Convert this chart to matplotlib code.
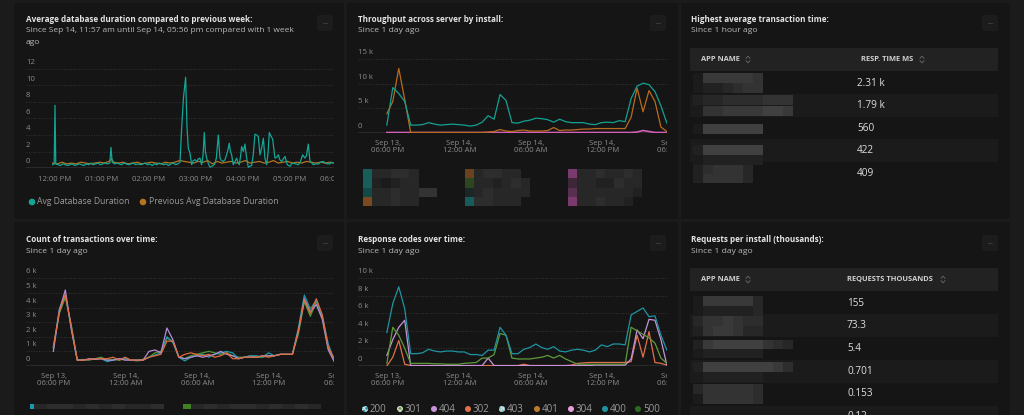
import matplotlib
matplotlib.use("Agg")
from matplotlib import pyplot as plt
from matplotlib.patches import Rectangle, FancyBboxPatch, Circle
from matplotlib.lines import Line2D
from matplotlib.transforms import Affine2D, Bbox, TransformedBbox, offset_copy
import numpy as np

plt.rcParams['font.family'] = ['Open Sans', 'DejaVu Sans']

W, H = 1024, 415

# ---- panel 1: avg database duration, (minutes after 12:00 PM, value)
db_avg = [(-3, 0.4), (-1, 0.5), (0, 7.6), (1, 0.5), (4, 0.4), (7, 0.3), (10, 0.5), (13, 0.4), (16, 0.3),
          (19, 0.4), (22, 0.5), (25, 0.3), (28, 0.4), (31, 0.5), (34, 0.4), (37, 0.3), (40, 0.5), (43, 0.4),
          (46, 0.6), (49, 0.4), (52, 0.5), (55, 0.6), (58, 0.4), (61, 0.5), (64, 0.6), (67, 0.5), (70, 0.6),
          (71.5, 2.5), (73, 0.7), (76, 0.5), (79, 0.6), (82, 0.5), (85, 0.4), (88, 0.6), (91, 0.5), (94, 0.4),
          (97, 0.5), (100, 0.6), (103, 0.4), (106, 0.5), (109, 0.4), (112, 0.5), (115, 0.6), (118, 0.4),
          (121, 0.5), (124, 0.3), (127, 0.5), (130, 0.4), (133, 0.6), (136, 0.5), (139, 0.4), (142, 0.5),
          (145, 0.3), (148, 0.5), (151, 0.6), (154, 0.4), (157, 0.5), (159.6, 0.7), (161.7, 4.8), (164, 8.5),
          (166.8, 11.0), (168.5, 5.0), (170.2, 2.4), (172.3, 1.8), (174.5, 0.4), (176.5, 0.9), (178.7, 1.0),
          (181, 0.8), (183, 1.1), (185, 1.2), (187.2, 0.4), (189, 1.5), (190.6, 4.3), (192, 2.0), (193.6, 1.2),
          (195.5, 0.6), (197.9, 0.1), (200, 0.2), (202, 0.3), (204, 0.5), (206, 1.2), (208.5, 4.0), (210.6, 1.2),
          (212.5, 0.9), (214.9, 0.8), (217, 1.0), (219.1, 1.6), (220.8, 2.2), (222.5, 3.0), (224, 2.0),
          (225.5, 1.6), (227.6, 0.4), (230, 0.8), (231.9, 1.2), (233.5, 0.7), (235.3, 0.4), (237, 1.5),
          (238.3, 2.6), (240.5, 2.0), (242.5, 2.9), (244.7, 1.2), (246.8, 0.1), (249, 0.2), (251, 0.3),
          (253, 1.5), (255.3, 4.1), (257.5, 4.0), (259.6, 3.8), (261.7, 1.6), (264, 2.5), (266, 3.6), (268, 1.2),
          (270.2, 0.4), (272, 1.8), (273.6, 4.3), (275.5, 3.9), (277.9, 3.5), (280.8, 1.2), (283, 1.3),
          (285.1, 1.6), (287, 1.0), (289.3, 0.8), (291.5, 1.1), (293.6, 1.4), (296.6, 0.4), (300, 0.2),
          (302, 0.5), (304.3, 0.6), (307, 0.5), (310.6, 0.4), (313, 0.7), (316.2, 1.6), (319.1, 1.2), (321, 1.5),
          (323.4, 2.9), (325.5, 0.8), (328, 0.6), (329.8, 0.4), (333, 0.5), (336.2, 0.5), (339, 0.7),
          (342.5, 0.8), (345, 0.6), (348, 0.5), (351, 0.5), (353, 0.7), (355.3, 0.6)]
db_prev = [(-3, 0.6), (3, 0.5), (9, 0.7), (15, 0.5), (21, 0.6), (27, 0.5), (33, 0.7), (39, 0.6), (45, 0.5),
           (51, 0.6), (57, 0.7), (63, 0.6), (69, 0.8), (72, 1.1), (75, 0.7), (81, 0.6), (87, 0.7), (93, 0.5),
           (99, 0.6), (105, 0.7), (111, 0.5), (117, 0.6), (123, 0.7), (129, 0.6), (135, 0.5), (141, 0.7),
           (147, 0.6), (153, 0.7), (159, 0.9), (165, 0.8), (171, 0.7), (177, 0.6), (183, 0.8), (189, 0.7),
           (195, 0.9), (201, 0.5), (207, 0.8), (213, 0.6), (219, 0.7), (225, 0.8), (231, 0.6), (237, 0.7),
           (243, 0.9), (249, 0.6), (255, 0.7), (261, 0.8), (267, 0.6), (273, 0.7), (279, 0.9), (285, 0.6),
           (291, 0.7), (297, 0.8), (303, 0.6), (309, 0.7), (315, 0.6), (321, 0.8), (327, 0.7), (333, 0.6),
           (339, 0.7), (345, 0.6), (351, 0.7), (355, 0.6)]
db_ticks = [0, 60, 120, 180, 240, 300, 360]
db_tick_labels = ["12:00 PM", "01:00 PM", "02:00 PM", "03:00 PM", "04:00 PM", "05:00 PM", "06:00 PM"]

# ---- day charts: half-hour samples, hours after Sep 13 06:00 PM
day_ticks = [0, 6, 12, 18, 24]
day_tick_labels = ["Sep 13,\n06:00 PM", "Sep 14,\n12:00 AM", "Sep 14,\n06:00 AM", "Sep 14,\n12:00 PM", "Sep 14,\n06:00 PM"]
hours_a = np.arange(48) * 0.5 - 0.1
hours_b = np.arange(48) * 0.5 - 0.05

# throughput (k)
thr_teal = [1.6, 9.2, 8.0, 6.4, 1.6, 1.6, 1.7, 2.1, 1.8, 1.6, 1.7, 1.8, 1.7, 1.6, 1.4, 1.6, 2.2, 3.5, 2.8, 7.8,
            6.6, 2.1, 2.0, 2.4, 2.6, 3.0, 2.9, 2.7, 2.2, 2.8, 2.3, 2.1, 2.1, 2.1, 1.8, 1.7, 2.1, 2.2, 2.1, 2.5,
            2.3, 7.0, 9.5, 10.1, 9.8, 8.4, 5.5, 2.0]
thr_orange = [3.9, 6.4, 13.1, 6.8, 0.1, 0.1, 0.1, 0.1, 0.1, 0.1, 0.1, 0.1, 0.1, 0.1, 0.1, 0.1, 0.1, 0.2, 0.3, 0.7,
              0.4, 0.3, 0.5, 0.6, 0.4, 0.4, 0.4, 0.5, 1.1, 0.5, 0.6, 0.6, 0.7, 0.8, 0.8, 0.9, 0.9, 0.9, 0.9, 0.9,
              0.9, 3.2, 9.1, 4.3, 8.6, 6.4, 1.2, 0.3]
thr_pink = [0.1, 0.1, 0.1, 0.1, 0.1, 0.1, 0.1, 0.1, 0.1, 0.1, 0.1, 0.1, 0.1, 0.1, 0.1, 0.1, 0.1, 0.1, 0.1, 0.1,
            0.1, 0.1, 0.1, 0.1, 0.1, 0.1, 0.1, 0.1, 0.1, 0.1, 0.1, 0.1, 0.1, 0.1, 0.1, 0.1, 0.1, 0.1, 0.1, 0.1,
            0.1, 0.1, 0.2, 0.5, 0.3, 0.1, 0.1, 0.1]

# transaction counts (k)
cnt_teal = [1.2, 3.9, 4.9, 2.6, 0.4, 0.4, 0.45, 0.5, 0.5, 0.3, 0.4, 0.5, 0.5, 0.4, 0.35, 0.4, 0.6, 0.75, 0.9, 2.0,
            1.6, 0.6, 0.35, 0.6, 0.7, 0.8, 0.6, 0.8, 0.9, 1.0, 0.9, 0.5, 0.6, 0.7, 0.7, 0.6, 0.9, 0.7, 0.8, 0.8,
            0.8, 2.6, 4.85, 3.9, 4.5, 3.4, 1.5, 0.4]
cnt_green = [1.3, 3.6, 4.7, 2.8, 0.4, 0.45, 0.4, 0.5, 0.6, 0.4, 0.45, 0.4, 0.5, 0.4, 0.4, 0.45, 0.6, 0.9, 1.0, 1.9,
             1.7, 0.6, 0.5, 0.7, 0.8, 0.9, 1.0, 0.9, 0.8, 0.9, 0.7, 0.6, 0.6, 0.7, 0.6, 0.6, 0.7, 0.7, 0.8, 0.8,
             0.8, 2.2, 4.4, 3.4, 4.4, 3.3, 1.2, 0.4]
cnt_purple = [1.0, 3.8, 5.2, 2.5, 0.4, 0.4, 0.5, 0.45, 0.5, 0.4, 0.4, 0.5, 0.4, 0.4, 0.4, 0.4, 1.0, 1.1, 0.9, 2.6,
              1.8, 0.6, 0.5, 0.6, 0.7, 0.6, 0.7, 0.8, 1.0, 0.8, 0.7, 0.5, 0.6, 0.6, 0.6, 0.7, 0.7, 0.7, 0.8, 0.8,
              0.8, 2.4, 4.6, 3.7, 4.2, 3.2, 1.1, 0.3]
cnt_orange = [1.3, 3.7, 4.9, 2.7, 0.4, 0.4, 0.45, 0.5, 0.5, 0.5, 0.6, 0.4, 0.6, 0.4, 0.4, 0.4, 0.6, 0.7, 0.8, 1.7,
              1.7, 0.6, 0.8, 0.9, 0.8, 0.7, 0.8, 0.6, 0.7, 0.9, 0.5, 0.5, 0.6, 0.6, 0.6, 0.7, 0.6, 0.7, 0.8, 0.8,
              0.8, 2.4, 4.5, 3.6, 4.6, 3.5, 1.3, 0.5]

# response codes (k)
rc_200 = [3.8, 7.1, 9.0, 6.5, 1.4, 1.4, 1.5, 1.9, 1.7, 1.6, 1.7, 1.7, 1.6, 1.6, 1.3, 1.3, 1.2, 1.8, 1.8, 4.4,
          3.5, 1.4, 1.4, 1.9, 2.1, 2.5, 2.1, 1.9, 2.2, 1.7, 1.6, 1.8, 1.9, 1.8, 1.6, 1.8, 2.4, 2.2, 2.5, 2.5,
          2.4, 5.8, 6.2, 6.6, 5.6, 5.7, 3.5, 1.8]
rc_301 = [0.3, 4.4, 3.5, 2.0, 0.3, 0.3, 0.3, 0.3, 0.25, 0.25, 0.2, 0.2, 0.2, 0.3, 0.35, 0.4, 0.9, 0.9, 1.3, 3.7,
          3.5, 0.9, 0.8, 0.8, 0.8, 0.9, 1.0, 1.2, 0.9, 1.2, 0.8, 0.5, 0.2, 0.2, 0.2, 0.2, 0.2, 0.2, 0.2, 0.2,
          0.2, 4.4, 4.0, 3.6, 3.2, 2.6, 0.9, 0.3]
rc_404 = [1.2, 3.0, 4.4, 5.2, 0.05, 0.05, 0.05, 0.05, 0.05, 0.05, 0.05, 0.05, 0.05, 0.05, 0.05, 0.05, 0.05, 0.9,
          0.05, 0.05, 0.05, 0.05, 0.05, 0.05, 0.05, 0.05, 0.05, 0.05, 0.05, 0.05, 0.05, 0.05, 0.05, 0.05, 0.05,
          0.1, 0.1, 0.1, 0.1, 0.1, 0.1, 0.8, 4.1, 3.1, 5.3, 5.2, 3.0, 0.1]
rc_302 = [0.0, 1.0, 2.9, 0.2, 0.05, 0.05, 0.05, 0.05, 0.05, 0.05, 0.05, 0.05, 0.05, 0.05, 0.05, 0.05, 0.05, 0.05,
          0.05, 0.05, 0.05, 0.05, 0.05, 0.2, 0.05, 0.05, 0.05, 0.05, 0.05, 0.05, 0.05, 0.1, 0.3, 0.35, 0.4, 0.4,
          0.4, 0.4, 0.4, 0.4, 0.4, 0.5, 3.5, 1.0, 3.9, 0.4, 0.3, 0.1]
rc_legend = ["200", "301", "404", "302", "403", "401", "304", "400", "500"]

# ---- tables
resp_values = ["2.31 k", "1.79 k", "560", "422", "409"]
req_values = ["155", "73.3", "5.4", "0.701", "0.153", "0.12"]

BG = '#1b1b1b'
PANEL = '#151515'
GRID = '#3e3e3e'
TICK = '#8a8a8a'
TITLE = '#e4e4e4'
SUB = '#b8b8b8'

fig = plt.figure(figsize=(W / 100, H / 100), dpi=100, facecolor=BG)
pix = Affine2D().scale(1 / W, -1 / H).translate(0, 1) + fig.transFigure


def ptext(x, y, s, size=6.1, color=SUB, weight='normal', ha='left'):
    fig.text(x / W, 1 - y / H, s, fontsize=size, color=color, fontweight=weight, ha=ha, va='center')


def rect(x, y, w, h, color, z=1):
    fig.add_artist(Rectangle((x, y), w, h, transform=pix, facecolor=color, edgecolor='none', lw=0, zorder=z))


def menu(x, y):
    fig.add_artist(FancyBboxPatch((x, y), 16, 16, boxstyle="round,pad=0,rounding_size=2", transform=pix,
                                  facecolor='#1c1c1c', edgecolor='none'))
    ptext(x + 8, y + 7.5, "...", size=5.5, color='#7a7a7a', ha='center')


def chevrons(x, y):
    fig.add_artist(Line2D([x - 2, x, x + 2], [y - 1.2, y - 3.4, y - 1.2], transform=pix, color='#6a6a6a', lw=0.6))
    fig.add_artist(Line2D([x - 2, x, x + 2], [y + 1.2, y + 3.4, y + 1.2], transform=pix, color='#6a6a6a', lw=0.6))


GRAYS = {'1': '#1b1b1b', '2': '#212121', '3': '#272727', '4': '#2d2d2d', '5': '#333333',
         '6': '#393939', '7': '#404040', '8': '#484848'}


def mosaic(x0, y0, cw, ch, rows):
    for i, row in enumerate(rows):
        for j, c in enumerate(row):
            if c in GRAYS:
                rect(x0 + j * cw, y0 + i * ch, cw, ch, GRAYS[c])


def chart(l, t, r, b, xlim, ymax, yticks, ylabels):
    ax = fig.add_axes([l / W, 1 - b / H, (r - l) / W, (b - t) / H])
    ax.set_zorder(5)
    ax.set_facecolor('none')
    ax.set_xlim(xlim)
    ax.set_ylim(0, ymax)
    for s in ax.spines.values():
        s.set_visible(False)
    ax.set_xticks([])
    ax.set_yticks([])
    for v, lab in zip(yticks, ylabels):
        if v > 0:
            ax.axhline(v, color=GRID, lw=0.6, ls=(0, (1, 2)), zorder=0)
        ax.annotate(lab, (0, v), xycoords=('axes fraction', 'data'), xytext=(0, 6.5),
                    textcoords='offset pixels', ha='left', va='center', fontsize=5.6, color=TICK,
                    annotation_clip=False)
    ax.axhline(0, color='#2c2c2c', lw=1.3, zorder=0)
    return ax


def xlabels(ax, xs, labels, dy):
    tr = offset_copy(ax.get_xaxis_transform(), fig=fig, y=-dy, units='dots')
    clip = TransformedBbox(Bbox([[-0.3, -3], [1.0, 1]]), ax.transAxes)
    for x, lab in zip(xs, labels):
        t = ax.text(x, 0, lab, transform=tr, ha='center', va='center', fontsize=5.6, color=TICK, linespacing=0.95)
        t.set_clip_box(clip)
        t.set_clip_on(True)


# ---- panels
for (x, y, w, h) in [(14, 3, 330, 216), (347, 3, 331, 216), (681, 3, 329, 216),
                     (14, 222, 330, 193), (347, 222, 331, 193), (681, 222, 329, 193)]:
    rect(x, y, w, h, PANEL, z=0)

# panel 1
ptext(26, 19, "Average database duration compared to previous week:", size=5.9, color=TITLE, weight='bold')
ptext(26, 31, "Since Sep 14, 11:57 am until Sep 14, 05:56 pm compared with 1 week", size=6.0)
ptext(26, 42, "ago", size=6.0)
menu(317, 15)
ax1 = chart(26, 69, 334, 168, (-37, 356.2), 12, [0, 2, 4, 6, 8, 10, 12], ["0", "2", "4", "6", "8", "10", "12"])
ax1.plot([p[0] for p in db_prev], [p[1] for p in db_prev], color='#b5741f', lw=0.9)
ax1.plot([p[0] for p in db_avg], [p[1] for p in db_avg], color='#13a596', lw=0.9)
xlabels(ax1, db_ticks, db_tick_labels, 11)
fig.add_artist(Circle((32, 202), 2.6, transform=pix, color='#13a596'))
ptext(37, 202, "Avg Database Duration", size=6.2, color='#9a9a9a')
fig.add_artist(Circle((143, 202), 2.6, transform=pix, color='#b5741f'))
ptext(149, 202, "Previous Avg Database Duration", size=6.2, color='#9a9a9a')

# panel 2
ptext(358, 20, "Throughput across server by install:", size=5.9, color=TITLE, weight='bold')
ptext(358, 31, "Since 1 day ago")
menu(650, 15)
ax2 = chart(358, 59, 667, 133, (-2.52, 23.41), 15, [0, 5, 10, 15], ["0", "5 k", "10 k", "15 k"])
ax2.plot(hours_a, thr_pink, color='#d35fb7', lw=1.2)
ax2.plot(hours_a, thr_orange, color='#b86b1c', lw=0.9)
ax2.plot(hours_a, thr_teal, color='#12a192', lw=0.9)
xlabels(ax2, day_ticks, day_tick_labels, 14)
leg_cols = [(363, ['#175e5a', '#175e5a', '#124a48', '#7a4a1e'], ["33443", "21233", "3343355", "33433"]),
            (465, ['#6a4220', '#2d4620', '#1c2626', '#165c58'], ["34433", "332343", "343333", "44333"]),
            (568, ['#7a3a6e', '#3c2638', '#5a3052', '#7a3a6e'], ["3343343", "3322433", "3333332", "3343320"])]
for sx, sw, rows in leg_cols:
    for i, c in enumerate(sw):
        rect(sx, 169 + i * 9.3, 9, 9.3, c)
    mosaic(sx + 9, 169, 9.3, 9.3, rows)

# panel 3
ptext(691, 19, "Highest average transaction time:", size=5.9, color=TITLE, weight='bold')
ptext(691, 31, "Since 1 hour ago")
menu(982, 15)
rect(690, 48, 308, 23, '#222222')
rect(690, 94, 308, 23, '#1b1b1b')
rect(690, 139, 308, 23, '#1b1b1b')
ptext(701, 59.5, "APP NAME", size=5.4, color='#cfcfcf', weight='bold')
chevrons(748, 59.5)
ptext(861, 59.5, "RESP. TIME MS", size=5.4, color='#cfcfcf', weight='bold')
chevrons(922, 59.5)
for i, v in enumerate(resp_values):
    ptext(857, 83 + i * 22.6, v, size=7.2, color='#dedede')
mosaic(693, 73, 10, 10, ["1666665", "1223455"])
mosaic(693, 95, 10, 10.5, ["2334444555", "1556666776"])
mosaic(693, 124, 10, 10, ["1777777"])
mosaic(693, 145, 10, 10, ["2777777", "1222222"])
mosaic(693, 165, 10, 9, ["2455530", "2555530"])

# panel 4
ptext(26, 239, "Count of transactions over time:", size=5.9, color=TITLE, weight='bold')
ptext(26, 251, "Since 1 day ago")
menu(317, 235)
ax4 = chart(26, 278.3, 334, 366, (-2.34, 23.43), 6, [0, 1, 2, 3, 4, 5, 6],
            ["0", "1 k", "2 k", "3 k", "4 k", "5 k", "6 k"])
ax4.plot(hours_b, cnt_green, color='#4c9a34', lw=0.9)
ax4.plot(hours_b, cnt_teal, color='#1a9aa8', lw=0.9)
ax4.plot(hours_b, cnt_purple, color='#b58ad6', lw=0.9)
ax4.plot(hours_b, cnt_orange, color='#e06b3e', lw=0.9)
xlabels(ax4, day_ticks, day_tick_labels, 14)
rect(30, 404, 4, 5, '#1a9aa8')
mosaic(34, 404, 13, 5, ["3443434334"])
rect(183, 404, 8, 5, '#3f7f26')
mosaic(191, 404, 13, 5, ["3434434343"])

# panel 5
ptext(358, 239, "Response codes over time:", size=5.9, color=TITLE, weight='bold')
ptext(358, 251, "Since 1 day ago")
menu(650, 235)
ax5 = chart(358, 278, 667, 366, (-2.52, 23.41), 10, [0, 2, 4, 6, 8, 10],
            ["0", "2 k", "4 k", "6 k", "8 k", "10 k"])
ax5.plot(hours_a, rc_302, color='#e0704a', lw=0.9)
ax5.plot(hours_a, rc_404, color='#c792db', lw=0.9)
ax5.plot(hours_a, rc_301, color='#5e9a3a', lw=0.9)
ax5.plot(hours_a, rc_200, color='#1f93a3', lw=0.9)
xlabels(ax5, day_ticks, day_tick_labels, 14)
leg_x = [365, 400, 434, 468, 502, 537, 571, 605, 638]
leg_c = ['#1f93a3', '#5e9a3a', '#c792db', '#e0704a', '#7ac8d0', '#c07a2c', '#e6a0d8', '#1f93a3', '#2e6b1e']
leg_h = [True, True, False, False, True, False, False, False, False]
for x, lab, c, hatched in zip(leg_x, rc_legend, leg_c, leg_h):
    if hatched:
        fig.add_artist(Circle((x, 409), 3.0, transform=pix, facecolor=c, edgecolor='#d8d8d8',
                              hatch='xxxxxx', lw=0))
    else:
        fig.add_artist(Circle((x, 409), 3.0, transform=pix, facecolor=c, edgecolor='none'))
    ptext(x + 5, 409, lab, size=7.0, color='#9a9a9a')

# panel 6
ptext(691, 239, "Requests per install (thousands):", size=5.9, color=TITLE, weight='bold')
ptext(691, 251, "Since 1 day ago")
menu(982, 235)
rect(690, 268, 308, 23, '#222222')
for yb in [314, 360, 406]:
    rect(690, yb, 308, 23, '#1b1b1b')
ptext(701, 279.5, "APP NAME", size=5.4, color='#cfcfcf', weight='bold')
chevrons(748, 279.5)
ptext(847, 279.5, "REQUESTS THOUSANDS", size=5.4, color='#cfcfcf', weight='bold')
chevrons(943, 279.5)
for i, v in enumerate(req_values):
    ptext(847, 303 + i * 22.7, v, size=7.2, color='#dedede')
mosaic(693, 296, 10, 10, ["1666663", "1222223"])
mosaic(693, 316, 10, 10, ["3556544", "2566533"])
mosaic(693, 340, 10, 9, ["2677777543", "1222222"])
mosaic(693, 362, 10, 10, ["2777777764", "1222222"])
mosaic(693, 384, 10, 10, ["3555554", "1555554"])

fig.savefig("out.png", dpi=100, facecolor=BG)
